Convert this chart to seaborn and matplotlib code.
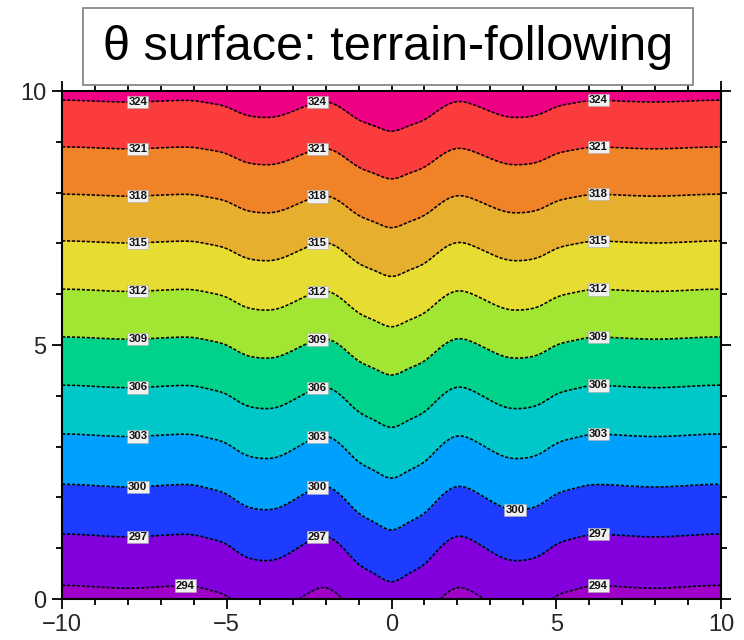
import numpy as np
import matplotlib
matplotlib.use("Agg")
import matplotlib.pyplot as plt
import seaborn as sns
from matplotlib.patches import Rectangle

# ---------------- data ----------------
title = "θ surface: terrain-following"
levels = [294, 297, 300, 303, 306, 309, 312, 315, 318, 321, 324]
# height (km) of each theta contour far from the centre (x = +-10)
far_heights = [0.27, 1.28, 2.26, 3.25, 4.21, 5.16, 6.10, 7.05, 7.97, 8.90, 9.82]
# downward displacement of each contour at x = 0
center_dip = [0.97, 0.94, 0.90, 0.87, 0.83, 0.75, 0.74, 0.70, 0.66, 0.63, 0.61]
# relative displacement profile versus |x| (1 = displacement at x=0)
profile_dist = [0.0, 0.5, 1.0, 1.5, 2.0, 2.5, 3.0, 3.5, 4.0, 4.5, 5.0,
                5.5, 6.0, 6.5, 7.0, 7.5, 8.0, 8.5, 9.0, 9.5, 10.0]
profile_shape = [1.00, 0.84, 0.63, 0.27, 0.05, 0.15, 0.36, 0.53, 0.55, 0.45, 0.22,
                 0.10, 0.02, 0.01, 0.03, 0.05, 0.06, 0.05, 0.03, 0.01, 0.00]
band_colors = ['#A000C8', '#8200DC', '#1E3CFF', '#00A0FF', '#00C8C8', '#00D28C',
               '#A0E632', '#E6DC32', '#E6AF2D', '#F08228', '#FA3C3C', '#F00082']
x_ticks = [-10, -5, 0, 5, 10]
y_ticks = [0, 5, 10]
# x positions of the contour labels for each level
label_x = {294: [-6.24, 6.27], 297: [-7.7, -2.26, 6.27], 300: [-7.7, -2.26, 3.75],
           303: [-7.7, -2.26, 6.27], 306: [-7.7, -2.26, 6.27], 309: [-7.7, -2.26, 6.27],
           312: [-7.7, -2.26, 6.27], 315: [-7.7, -2.26, 6.27], 318: [-7.7, -2.26, 6.27],
           321: [-7.7, -2.26, 6.27], 324: [-7.7, -2.26, 6.27]}


# ---------------- helpers ----------------
def natural_spline(xk, yk, xq):
    xk = np.asarray(xk, float)
    yk = np.asarray(yk, float)
    n = len(xk)
    h = np.diff(xk)
    A = np.zeros((n, n))
    r = np.zeros(n)
    A[0, 0] = A[-1, -1] = 1.0
    for i in range(1, n - 1):
        A[i, i - 1] = h[i - 1]
        A[i, i] = 2 * (h[i - 1] + h[i])
        A[i, i + 1] = h[i]
        r[i] = 3 * ((yk[i + 1] - yk[i]) / h[i] - (yk[i] - yk[i - 1]) / h[i - 1])
    c = np.linalg.solve(A, r)
    b = (yk[1:] - yk[:-1]) / h - h * (2 * c[:-1] + c[1:]) / 3
    d = (c[1:] - c[:-1]) / (3 * h)
    idx = np.clip(np.searchsorted(xk, xq) - 1, 0, n - 2)
    dx = xq - xk[idx]
    return yk[idx] + b[idx] * dx + c[idx] * dx ** 2 + d[idx] * dx ** 3


# build the mirrored profile over -10..10
pd_arr = np.asarray(profile_dist)
ps_arr = np.asarray(profile_shape)
full_x = np.concatenate([-pd_arr[:0:-1], pd_arr])
full_s = np.concatenate([ps_arr[:0:-1], ps_arr])

xs = np.linspace(-10, 10, 801)
zs = np.linspace(0, 10, 501)
shape = natural_spline(full_x, full_s, xs)
lev = np.asarray(levels, float)
H = np.asarray(far_heights)[:, None] - np.asarray(center_dip)[:, None] * shape[None, :]

theta = np.empty((zs.size, xs.size))
for j in range(xs.size):
    h = H[:, j]
    t = np.interp(zs, h, lev)
    lo = zs < h[0]
    t[lo] = lev[0] + (zs[lo] - h[0]) * (lev[1] - lev[0]) / (h[1] - h[0])
    hi = zs > h[-1]
    t[hi] = lev[-1] + (zs[hi] - h[-1]) * (lev[-1] - lev[-2]) / (h[-1] - h[-2])
    theta[:, j] = t

# ---------------- figure ----------------
sns.set_style("ticks")
plt.rcParams['font.family'] = ['Liberation Sans', 'DejaVu Sans']

W, Hpx = 744, 640
fig = plt.figure(figsize=(W / 100, Hpx / 100), dpi=100)
ax = fig.add_axes([62 / W, 41 / Hpx, 659 / W, 508 / Hpx])

bounds = [280] + levels + [340]
ax.contourf(xs, zs, theta, levels=bounds, colors=sns.color_palette(band_colors))
cs = ax.contour(xs, zs, theta, levels=levels, colors='black', linewidths=1.15)
cs.set_linestyle((0, (2.0, 1.1)))

positions = []
for k, L in enumerate(levels):
    for xl in label_x[L]:
        j = int(np.argmin(np.abs(xs - xl)))
        positions.append((xs[j], H[k, j]))
texts = ax.clabel(cs, manual=positions, inline=False, fmt='%d', fontsize=8.2)
for t in texts:
    t.set_rotation(0)
    t.set_fontweight('bold')
    t.set_color('#111111')
    t.set_bbox(dict(facecolor='#f0f0f0', edgecolor='#aaaaaa', linewidth=0.4, pad=0.8))

ax.set_xlim(-10, 10)
ax.set_ylim(0, 10)
ax.set_xticks(x_ticks)
ax.set_yticks(y_ticks)
ax.set_xticks(np.arange(-10, 11, 1), minor=True)
ax.set_yticks(np.arange(0, 11, 1), minor=True)
ax.tick_params(which='both', direction='out', top=True, right=True,
               labeltop=False, labelright=False, width=1.3, color='black')
ax.tick_params(which='major', length=7, labelsize=17, pad=4)
ax.tick_params(which='minor', length=4)
for sp in ax.spines.values():
    sp.set_linewidth(1.5)
    sp.set_color('black')

# title box
fig.patches.append(Rectangle((83 / W, 1 - 85 / Hpx), 610 / W, 77 / Hpx,
                             transform=fig.transFigure, facecolor='white',
                             edgecolor='#888888', linewidth=1.3, zorder=5))
fig.text(388 / W, 1 - 48 / Hpx, title, ha='center', va='center', fontsize=35,
         color='black', zorder=6)

fig.savefig('out.png', dpi=100)
